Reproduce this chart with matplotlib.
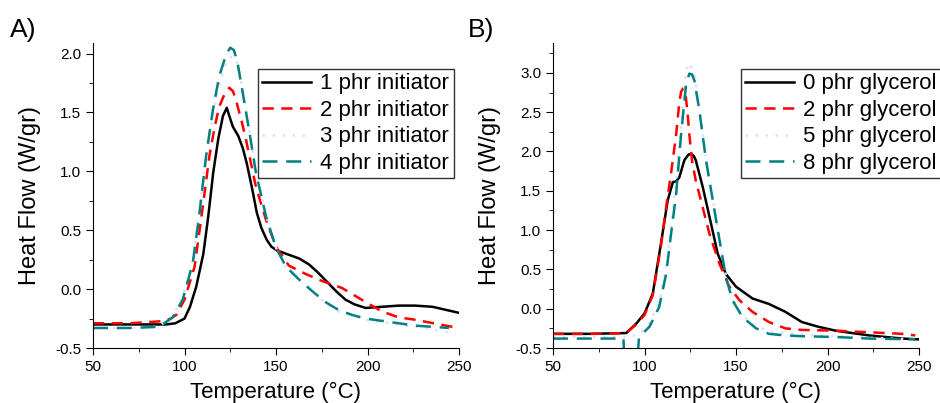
import numpy as np
import matplotlib
matplotlib.use("Agg")
import matplotlib.pyplot as plt
from matplotlib.ticker import MultipleLocator, FormatStrFormatter

plt.rcParams['font.family'] = ['Liberation Sans', 'DejaVu Sans']

# ---- panel A: initiator content ----
t_a1 = [50, 70, 90, 95, 100, 103, 106.4, 110.3, 113, 115.7, 118.5, 121, 123.1, 124.5, 126.4, 129.4,
        131.8, 134, 137, 139.5, 142, 144.9, 147.5, 150.4, 155.5, 162.7, 168, 173, 178, 183, 188, 193,
        199, 208, 217, 226, 235.5, 249.6]
hf_a1 = [-0.3, -0.3, -0.3, -0.29, -0.25, -0.15, 0.02, 0.30, 0.62, 0.99, 1.28, 1.47, 1.54, 1.47, 1.38, 1.30,
         1.20, 1.07, 0.85, 0.65, 0.52, 0.42, 0.36, 0.33, 0.30, 0.26, 0.21, 0.14, 0.06, -0.02, -0.09, -0.13,
         -0.16, -0.15, -0.14, -0.14, -0.15, -0.2]

t_a2 = [50, 70, 90, 95.5, 100, 105.5, 110, 113.6, 116.5, 119, 122, 124.5, 126.5, 128, 131, 133.6, 139,
        144.5, 150, 157, 166, 175, 186, 199, 208, 217, 226, 236, 249.6]
hf_a2 = [-0.29, -0.29, -0.27, -0.22, -0.09, 0.19, 0.70, 1.13, 1.38, 1.55, 1.66, 1.71, 1.68, 1.61, 1.44, 1.27, 0.87,
         0.59, 0.36, 0.20, 0.13, 0.07, 0.01, -0.11, -0.19, -0.24, -0.26, -0.29, -0.33]

t_a3 = [50, 70, 86, 93.6, 99, 104.5, 108, 111.8, 115.5, 119, 122.7, 126, 129, 132.5, 136, 139.5,
        145, 150, 155.5, 162.7, 170, 177, 184.5, 191.8, 199, 208, 217, 226, 235.5, 248]
hf_a3 = [-0.33, -0.33, -0.32, -0.23, -0.07, 0.25, 0.66, 1.12, 1.48, 1.74, 1.92, 1.98, 1.92, 1.63, 1.29, 0.97,
         0.60, 0.35, 0.19, 0.08, -0.02, -0.12, -0.19, -0.23, -0.26, -0.28, -0.30, -0.32, -0.34, -0.38]

t_a4 = [50, 70, 86, 93.6, 99, 104.5, 108, 111.8, 115.5, 119, 122.7, 125, 127, 129, 131.8, 135.5, 139,
        144.5, 150, 155.5, 162.7, 170, 177, 184.5, 191.8, 199, 208, 217, 226, 235.5, 244.5]
hf_a4 = [-0.33, -0.33, -0.32, -0.24, -0.09, 0.22, 0.62, 1.13, 1.52, 1.81, 1.99, 2.05, 2.03, 1.92, 1.67, 1.33,
         0.99, 0.62, 0.35, 0.19, 0.08, -0.02, -0.11, -0.18, -0.22, -0.25, -0.27, -0.29, -0.31, -0.32, -0.33]

# ---- panel B: glycerol content ----
t_b0 = [50, 70, 90, 95.5, 100, 104.5, 109, 112.7, 115.5, 117.3, 119, 121.8, 124, 125.5, 127, 128, 131.8,
        135.5, 140, 144.5, 150, 159, 168, 177, 186, 195, 204.5, 222.7, 240.9, 249.6]
hf_b0 = [-0.32, -0.32, -0.31, -0.19, -0.06, 0.19, 0.83, 1.38, 1.61, 1.62, 1.67, 1.89, 1.96, 1.97, 1.94, 1.89,
         1.55, 1.17, 0.70, 0.44, 0.28, 0.13, 0.06, -0.04, -0.17, -0.23, -0.28, -0.34, -0.38, -0.39]

t_b2 = [50, 70, 90, 95.5, 100, 104.5, 109, 111.8, 114.5, 117.3, 119, 120, 121, 122.4, 123.5, 124.5, 126,
        128, 131.8, 135.5, 141, 146.4, 151.8, 159, 168, 177, 186, 204.5, 222.7, 240.9, 248]
hf_b2 = [-0.32, -0.32, -0.31, -0.2, -0.08, 0.17, 0.80, 1.29, 1.72, 2.22, 2.62, 2.76, 2.80, 2.73, 2.50, 2.22,
         1.88, 1.63, 1.29, 0.95, 0.57, 0.28, 0.11, -0.04, -0.17, -0.25, -0.27, -0.28, -0.30, -0.32, -0.34]

t_b5 = [50, 70, 90, 97, 102.7, 108, 111.8, 114.5, 117.3, 120, 122.7, 124.5, 127.3, 130, 133.6, 137.3,
        141, 144.5, 148, 153.6, 161, 168, 177, 186, 204.5, 222.7, 248]
hf_b5 = [-0.36, -0.36, -0.36, -0.33, -0.18, 0.08, 0.52, 1.05, 1.60, 2.35, 3.02, 3.13, 2.98, 2.55, 1.90, 1.40,
         0.88, 0.42, 0.13, -0.09, -0.22, -0.29, -0.31, -0.33, -0.35, -0.37, -0.39]

t_b8 = [50, 70, 88.5, 89, 96, 97, 102.7, 108, 111.8, 114.5, 117.3, 120, 122.7, 124.5, 126, 127.3, 130, 133.6,
        137.3, 141, 144.5, 148, 153.6, 161, 168, 177, 186, 204.5, 222.7, 248]
hf_b8 = [-0.38, -0.38, -0.38, -0.7, -0.7, -0.36, -0.23, 0.02, 0.44, 0.95, 1.46, 2.22, 2.85, 2.99, 2.98, 2.90,
         2.52, 1.89, 1.38, 0.87, 0.40, 0.11, -0.11, -0.25, -0.32, -0.34, -0.35, -0.36, -0.38, -0.39]

labels_a = ['1 phr initiator', '2 phr initiator', '3 phr initiator', '4 phr initiator']
labels_b = ['0 phr glycerol', '2 phr glycerol', '5 phr glycerol', '8 phr glycerol']

colors = ['black', '#ff0000', '#dcdcff', '#008080']
styles = ['-', (0, (4.5, 3)), (0, (1, 3)), (0, (6, 3.5))]

fig = plt.figure(figsize=(9.4, 4.03), dpi=100)
ax_a = fig.add_axes([93 / 940, 55 / 403, 366 / 940, 305 / 403])
ax_b = fig.add_axes([553 / 940, 55 / 403, 366 / 940, 305 / 403])

series_a = [(t_a1, hf_a1), (t_a2, hf_a2), (t_a3, hf_a3), (t_a4, hf_a4)]
series_b = [(t_b0, hf_b0), (t_b2, hf_b2), (t_b5, hf_b5), (t_b8, hf_b8)]

for ax, series, labels, ylim, anchor in [(ax_a, series_a, labels_a, (-0.5, 2.09), (0.985, 0.915)),
                                          (ax_b, series_b, labels_b, (-0.5, 3.38), (1.06, 0.915))]:
    for (t, hf), lab, c, ls in zip(series, labels, colors, styles):
        ax.plot(t, hf, color=c, linestyle=ls, lw=1.8, label=lab)
    ax.set_xlim(50, 250)
    ax.set_ylim(*ylim)
    ax.xaxis.set_major_locator(MultipleLocator(50))
    ax.xaxis.set_minor_locator(MultipleLocator(25))
    ax.yaxis.set_major_locator(MultipleLocator(0.5))
    ax.yaxis.set_minor_locator(MultipleLocator(0.25))
    ax.yaxis.set_major_formatter(FormatStrFormatter('%.1f'))
    for s in ['top', 'right']:
        ax.spines[s].set_visible(False)
    ax.tick_params(which='major', direction='out', length=5, labelsize=11)
    ax.tick_params(which='minor', direction='out', length=3)
    ax.set_xlabel('Temperature (°C)', fontsize=16, labelpad=6)
    ax.set_ylabel('Heat Flow (W/gr)', fontsize=17, labelpad=10)
    leg = ax.legend(loc='upper right', bbox_to_anchor=anchor,
                    fontsize=16, frameon=True, fancybox=False, edgecolor='black',
                    handlelength=2.2, handletextpad=0.4, borderpad=0.2, labelspacing=0.25,
                    borderaxespad=0.0)
    leg.get_frame().set_linewidth(1.0)

fig.text(10 / 940, 1 - 30 / 403, 'A)', fontsize=19, va='center')
fig.text(468 / 940, 1 - 30 / 403, 'B)', fontsize=19, va='center')

fig.savefig('out.png', dpi=100)
